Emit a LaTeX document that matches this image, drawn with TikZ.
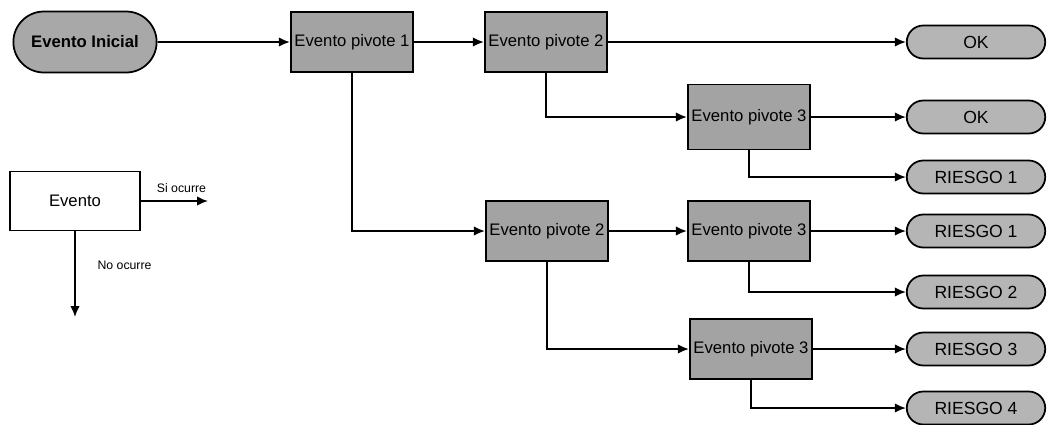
\documentclass[tikz,border=0pt]{standalone}
\usepackage{fontspec}
\setmainfont{Liberation Sans}
\usetikzlibrary{arrows.meta,shapes.misc}

\begin{document}
\begin{tikzpicture}[x=0.02cm, y=-0.02cm, line width=1pt,
  >={Latex[length=2.2mm,width=1.9mm]},
  pivote/.style={draw, rectangle, fill=gray!72, minimum width=2.45cm, minimum height=1.2cm, inner sep=1pt, font=\fontsize{9.5}{11}\selectfont},
  inicio/.style={draw, rounded rectangle, fill=gray!68, minimum width=3.1cm, minimum height=1.22cm, font=\fontsize{9.5}{11}\selectfont\bfseries},
  salida/.style={draw, rounded rectangle, fill=gray!58, minimum width=2.84cm, minimum height=0.66cm, inner sep=1pt, font=\fontsize{10}{12}\selectfont},
  leyenda/.style={font=\fontsize{7}{8}\selectfont}]
\useasboundingbox (0,0) rectangle (1049,424);

% Events
\node[inicio] (ini) at (85,42) {Evento Inicial};
\node[pivote] (p1) at (352,42) {Evento pivote 1};
\node[pivote] (p2a) at (546,42) {Evento pivote 2};
\node[pivote, minimum height=1.3cm] (p3a) at (749,117) {Evento pivote 3};
\node[pivote] (p2b) at (547,231) {Evento pivote 2};
\node[pivote] (p3b) at (749,231) {Evento pivote 3};
\node[pivote] (p3c) at (751,349) {Evento pivote 3};

% Outcomes
\node[salida] (ok1) at (976,42) {OK};
\node[salida] (ok2) at (976,117) {OK};
\node[salida] (r1a) at (976,177) {RIESGO 1};
\node[salida] (r1b) at (976,231) {RIESGO 1};
\node[salida] (r2) at (976,292) {RIESGO 2};
\node[salida] (r3) at (976,349) {RIESGO 3};
\node[salida] (r4) at (976,408) {RIESGO 4};

% Branches
\draw[->] (ini) -- (p1);
\draw[->] (p1) -- (p2a);
\draw[->] (p2a) -- (ok1);
\draw[->] (p2a.south) |- (p3a);
\draw[->] (p3a) -- (ok2);
\draw[->] (p3a.south) |- (r1a);
\draw[->] (p1.south) |- (p2b);
\draw[->] (p2b) -- (p3b);
\draw[->] (p3b) -- (r1b);
\draw[->] (p3b.south) |- (r2);
\draw[->] (p2b.south) |- (p3c);
\draw[->] (p3c) -- (r3);
\draw[->] (p3c.south) |- (r4);

% Legend
\node[draw, rectangle, fill=white, minimum width=2.6cm, minimum height=1.18cm, font=\fontsize{9.5}{11}\selectfont] (ev) at (75,201) {Evento};
\coordinate (si) at (208,201);
\coordinate (no) at (75,317);
\draw[->] (ev) -- (si) node[leyenda, midway, above=1pt, xshift=4pt] {Si ocurre};
\draw[->] (ev) -- (no) node[leyenda, pos=0.4, right=9pt] {No ocurre};

\end{tikzpicture}
\end{document}
